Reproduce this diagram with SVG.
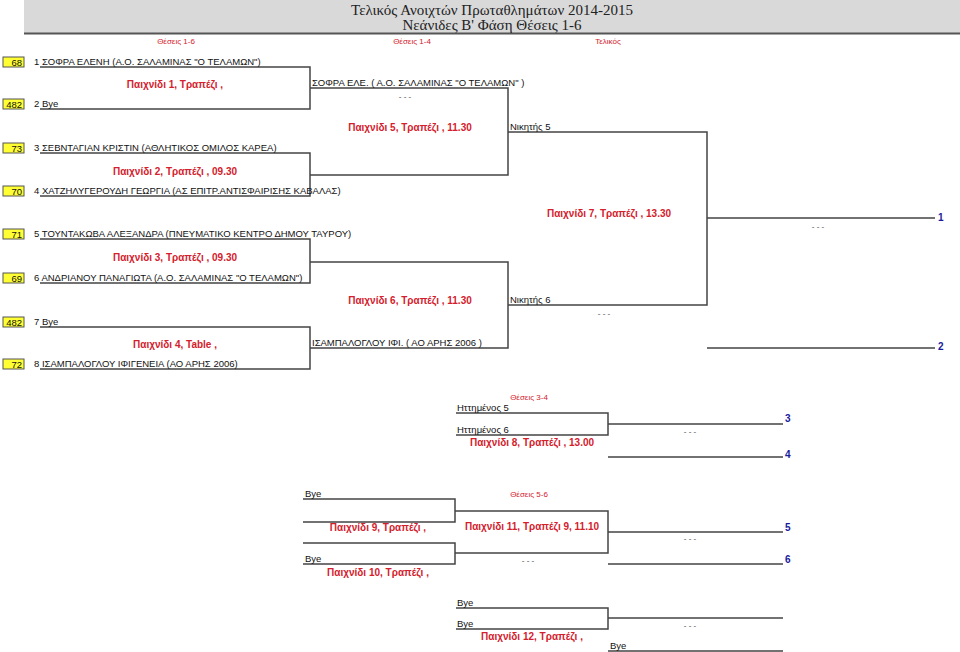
<svg xmlns="http://www.w3.org/2000/svg" width="960" height="652" viewBox="0 0 960 652">
<style>
.t{font-family:"Liberation Sans",Arial,sans-serif;font-size:9.5px;fill:#111}
.r{font-family:"Liberation Sans",Arial,sans-serif;font-size:10px;font-weight:bold;fill:#d4202c;text-anchor:middle}
.h{font-family:"Liberation Sans",Arial,sans-serif;font-size:8px;fill:#d4202c;text-anchor:middle}
.b{font-family:"Liberation Sans",Arial,sans-serif;font-size:10px;font-weight:bold;fill:#1a1a9a}
.d{font-family:"Liberation Sans",Arial,sans-serif;font-size:8px;fill:#444}
.s{fill:#ffff33;stroke:#555;stroke-width:1}
.n{font-family:"Liberation Sans",Arial,sans-serif;font-size:9.5px;fill:#111;text-anchor:end}
.ttl{font-family:"Liberation Serif","Times New Roman",serif;font-size:15px;fill:#222;text-anchor:middle}
.l{fill:none;stroke:#444;stroke-width:1.5}
</style>
<g id="header">
<rect x="24" y="0" width="936" height="33" fill="#d9d9d9"/>
<line x1="24" y1="33.5" x2="960" y2="33.5" stroke="#555" stroke-width="2"/>
<text class="ttl" x="492" y="14.5">Τελικός Ανοιχτών Πρωταθλημάτων 2014-2015</text>
<text class="ttl" x="492" y="29.5">Νεάνιδες Β' Φάση  Θέσεις 1-6</text>
<text class="h" x="176" y="44">Θέσεις 1-6</text>
<text class="h" x="412" y="44">Θέσεις 1-4</text>
<text class="h" x="608" y="44">Τελικός</text>
</g>
<g id="connectors">
<path class="l" d="M40 67H310V109H40M310 88H508V175H310M40 153H310V196H40M508 132H707V305H508M40 239H310V283H40M310 262H508V348H310M40 327H310V369H40M707 218H935M707 348H935"/>
<path class="l" d="M456 413H608V435H456M608 424H783M608 457H783"/>
<path class="l" d="M303 499H455V522H303M455 511H608V553H455M303 543H455V564H303M608 532H783M608 564H783"/>
<path class="l" d="M456 608H608V629H456M608 618H783M608 651H783"/>
</g>
<g id="seeds">
<rect class="s" x="3" y="57" width="21" height="10"/><text class="n" x="22" y="65.5">68</text>
<text class="t" x="34" y="65">1 ΣΟΦΡΑ  ΕΛΕΝΗ (Α.Ο. ΣΑΛΑΜΙΝΑΣ "Ο ΤΕΛΑΜΩΝ")</text>
<rect class="s" x="3" y="99" width="21" height="10"/><text class="n" x="22" y="107.5">482</text>
<text class="t" x="34" y="107">2 Bye</text>
<rect class="s" x="3" y="143" width="21" height="10"/><text class="n" x="22" y="151.5">73</text>
<text class="t" x="34" y="151">3 ΣΕΒΝΤΑΓΙΑΝ  ΚΡΙΣΤΙΝ (ΑΘΛΗΤΙΚΟΣ ΟΜΙΛΟΣ ΚΑΡΕΑ)</text>
<rect class="s" x="3" y="186" width="21" height="10"/><text class="n" x="22" y="194.5">70</text>
<text class="t" x="34" y="194">4 ΧΑΤΖΗΛΥΓΕΡΟΥΔΗ  ΓΕΩΡΓΙΑ (ΑΣ ΕΠΙΤΡ.ΑΝΤΙΣΦΑΙΡΙΣΗΣ ΚΑΒΑΛΑΣ)</text>
<rect class="s" x="3" y="229" width="21" height="10"/><text class="n" x="22" y="237.5">71</text>
<text class="t" x="34" y="237">5 ΤΟΥΝΤΑΚΩΒΑ  ΑΛΕΞΑΝΔΡΑ (ΠΝΕΥΜΑΤΙΚΟ ΚΕΝΤΡΟ ΔΗΜΟΥ ΤΑΥΡΟΥ)</text>
<rect class="s" x="3" y="273" width="21" height="10"/><text class="n" x="22" y="281.5">69</text>
<text class="t" x="34" y="281">6 ΑΝΔΡΙΑΝΟΥ  ΠΑΝΑΓΙΩΤΑ (Α.Ο. ΣΑΛΑΜΙΝΑΣ "Ο ΤΕΛΑΜΩΝ")</text>
<rect class="s" x="3" y="317" width="21" height="10"/><text class="n" x="22" y="325.5">482</text>
<text class="t" x="34" y="325">7 Bye</text>
<rect class="s" x="3" y="359" width="21" height="10"/><text class="n" x="22" y="367.5">72</text>
<text class="t" x="34" y="367">8 ΙΣΑΜΠΑΛΟΓΛΟΥ  ΙΦΙΓΕΝΕΙΑ (ΑΟ ΑΡΗΣ 2006)</text>
</g>
<g id="match1"><text class="r" x="175" y="88">Παιχνίδι 1, Τραπέζι ,</text>
<text class="t" x="312" y="86">ΣΟΦΡΑ  ΕΛΕ. ( Α.Ο. ΣΑΛΑΜΙΝΑΣ "Ο ΤΕΛΑΜΩΝ" )</text>
<text class="d" x="405" y="99" text-anchor="middle">-  -  -</text></g>
<g id="match2"><text class="r" x="175" y="175">Παιχνίδι 2, Τραπέζι , 09.30</text></g>
<g id="match3"><text class="r" x="175" y="261">Παιχνίδι 3, Τραπέζι , 09.30</text></g>
<g id="match4"><text class="r" x="175" y="348">Παιχνίδι 4, Table ,</text>
<text class="t" x="312" y="346">ΙΣΑΜΠΑΛΟΓΛΟΥ  ΙΦΙ. ( ΑΟ ΑΡΗΣ 2006 )</text></g>
<g id="match5"><text class="r" x="410" y="131">Παιχνίδι 5, Τραπέζι , 11.30</text>
<text class="t" x="510" y="130">Νικητής 5</text></g>
<g id="match6"><text class="r" x="410" y="304">Παιχνίδι 6, Τραπέζι , 11.30</text>
<text class="t" x="510" y="303">Νικητής 6</text>
<text class="d" x="604" y="316" text-anchor="middle">-  -  -</text></g>
<g id="match7"><text class="r" x="609" y="217">Παιχνίδι 7, Τραπέζι , 13.30</text>
<text class="d" x="818" y="229" text-anchor="middle">-  -  -</text>
<text class="b" x="938" y="221">1</text>
<text class="b" x="938" y="350">2</text></g>
<g id="match8"><text class="h" x="529" y="400">Θέσεις 3-4</text>
<text class="t" x="457" y="411">Ηττημένος 5</text>
<text class="t" x="457" y="433">Ηττημένος 6</text>
<text class="r" x="532" y="446">Παιχνίδι 8, Τραπέζι , 13.00</text>
<text class="d" x="690" y="434" text-anchor="middle">-  -  -</text>
<text class="b" x="785" y="422">3</text>
<text class="b" x="785" y="458">4</text></g>
<g id="match9"><text class="h" x="529" y="497">Θέσεις 5-6</text>
<text class="t" x="305" y="497">Bye</text>
<text class="r" x="378" y="531">Παιχνίδι 9, Τραπέζι ,</text></g>
<g id="match10"><text class="t" x="305" y="562">Bye</text>
<text class="r" x="378" y="576">Παιχνίδι 10, Τραπέζι ,</text>
<text class="d" x="528" y="563" text-anchor="middle">-  -  -</text></g>
<g id="match11"><text class="r" x="532" y="530">Παιχνίδι 11, Τραπέζι 9, 11.10</text>
<text class="d" x="690" y="541" text-anchor="middle">-  -  -</text>
<text class="b" x="785" y="531">5</text>
<text class="b" x="785" y="563">6</text></g>
<g id="match12"><text class="t" x="457" y="606">Bye</text>
<text class="t" x="457" y="627">Bye</text>
<text class="r" x="532" y="640">Παιχνίδι 12, Τραπέζι ,</text>
<text class="d" x="690" y="628" text-anchor="middle">-  -  -</text>
<text class="t" x="610" y="649">Bye</text></g>
</svg>
